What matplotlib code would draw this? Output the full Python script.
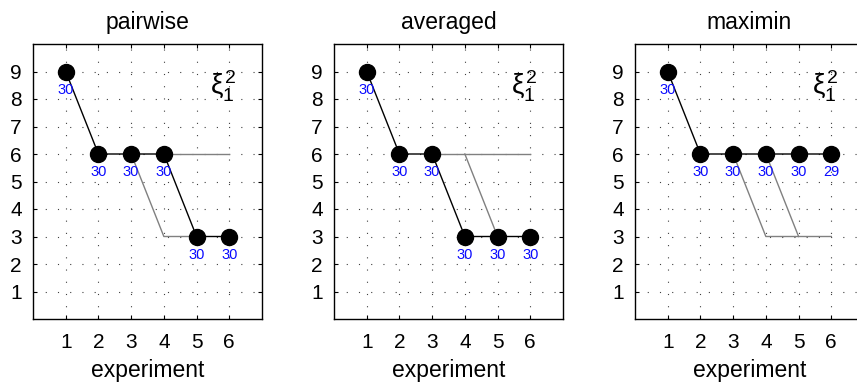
import matplotlib
matplotlib.use("Agg")
import matplotlib.pyplot as plt

plt.rcParams['font.family'] = ['Liberation Sans', 'DejaVu Sans']
plt.rcParams['mathtext.fontset'] = 'custom'
plt.rcParams['mathtext.rm'] = 'Liberation Sans'
plt.rcParams['mathtext.it'] = 'Liberation Sans'

# Experiments on the x axis
experiments = [1, 2, 3, 4, 5, 6]

# Panel titles
titles = ["pairwise", "averaged", "maximin"]

# Selected path (black) for each criterion
pairwise_values = [9, 6, 6, 6, 3, 3]
averaged_values = [9, 6, 6, 3, 3, 3]
maximin_values = [9, 6, 6, 6, 6, 6]

# Counts printed under each marker
pairwise_counts = [30, 30, 30, 30, 30, 30]
averaged_counts = [30, 30, 30, 30, 30, 30]
maximin_counts = [30, 30, 30, 30, 30, 29]

# Alternative branches (grey): (x values, y values)
pairwise_branches = [([3, 4, 5], [6, 3, 3]), ([4, 5, 6], [6, 6, 6])]
averaged_branches = [([3, 4, 5, 6], [6, 6, 6, 6]), ([4, 5], [6, 3])]
maximin_branches = [([3, 4, 5, 6], [6, 3, 3, 3]), ([4, 5], [6, 3])]

values = [pairwise_values, averaged_values, maximin_values]
counts = [pairwise_counts, averaged_counts, maximin_counts]
branches = [pairwise_branches, averaged_branches, maximin_branches]

W, H = 857, 385
fig = plt.figure(figsize=(W / 100, H / 100), dpi=100)

lefts = [33, 334, 635]
ax_w, ax_h = 229, 275
bottom = H - 319

for i in range(3):
    ax = fig.add_axes([lefts[i] / W, bottom / H, ax_w / W, ax_h / H])
    for bx, by in branches[i]:
        ax.plot(bx, by, color='0.5', lw=1.0, zorder=2)
    ax.plot(experiments, values[i], color='black', lw=1.0, zorder=3)
    ax.plot(experiments, values[i], 'o', color='black', ms=11.5, zorder=4)
    for x, y, c in zip(experiments, values[i], counts[i]):
        ax.annotate(str(c), (x, y), xytext=(0, -13), textcoords='offset points',
                    ha='center', va='center', color='#0a0aff', fontsize=10.5, zorder=5)
    ax.text(5.8, 8.45, r'$\xi_1^2$', ha='center', va='center', fontsize=20)

    ax.set_xlim(0, 7)
    ax.set_ylim(0, 10)
    ax.set_xticks(experiments)
    ax.set_yticks(range(1, 10))
    ax.grid(True, color='0.25', linestyle=(0, (1, 10)), linewidth=0.8)
    ax.tick_params(direction='in', length=3, width=0.8, top=True, right=True,
                   labelsize=15, pad=8)
    ax.tick_params(axis='x', pad=10)
    for s in ax.spines.values():
        s.set_linewidth(1.0)
    ax.set_title(titles[i], fontsize=16.5, pad=11)
    ax.set_xlabel("experiment", fontsize=16.5, labelpad=5)

fig.savefig("out.png", dpi=100)
